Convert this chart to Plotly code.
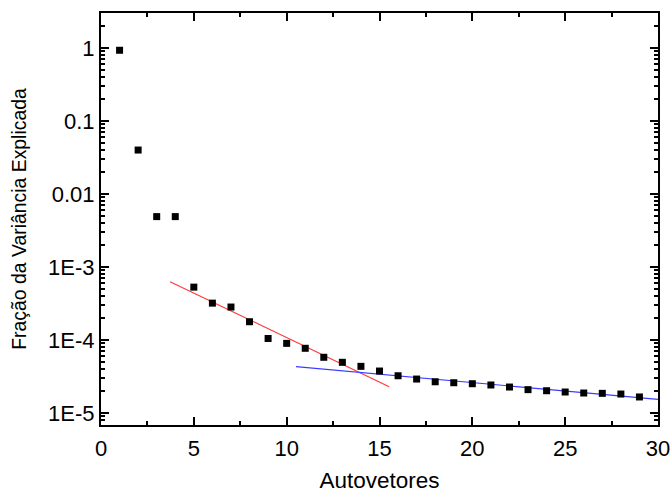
import plotly.graph_objects as go

# Explained-variance fraction per eigenvector
autovetores = list(range(1, 30))
fracao = [0.93, 0.040, 0.0049, 0.0049, 5.3e-4, 3.2e-4, 2.83e-4, 1.78e-4, 1.05e-4,
          9.0e-5, 7.7e-5, 5.8e-5, 4.95e-5, 4.36e-5, 3.76e-5, 3.24e-5, 2.92e-5,
          2.68e-5, 2.60e-5, 2.52e-5, 2.42e-5, 2.27e-5, 2.09e-5, 2.02e-5, 1.94e-5,
          1.88e-5, 1.86e-5, 1.82e-5, 1.66e-5]

# Two straight-line fits (in log scale)
fit_rapido_x = [3.72, 15.52]
fit_rapido_y = [6.29e-4, 2.29e-5]
fit_lento_x = [10.5, 30.0]
fit_lento_y = [4.31e-5, 1.54e-5]

ytick_vals = [1, 0.1, 0.01, 1e-3, 1e-4, 1e-5]
ytick_text = ["1", "0.1", "0.01", "1E-3", "1E-4", "1E-5"]

fig = go.Figure()
fig.add_trace(go.Scatter(x=fit_rapido_x, y=fit_rapido_y, mode="lines",
                         line=dict(color="#ff3b3b", width=1.2), showlegend=False))
fig.add_trace(go.Scatter(x=fit_lento_x, y=fit_lento_y, mode="lines",
                         line=dict(color="#3b3bff", width=1.2), showlegend=False))
fig.add_trace(go.Scatter(x=autovetores, y=fracao, mode="markers",
                         marker=dict(symbol="square", size=7, color="black",
                                     line=dict(width=0)),
                         showlegend=False))

font = "Arial, 'Liberation Sans', sans-serif"
fig.update_layout(
    width=672, height=493,
    margin=dict(l=101, r=14, t=13, b=68),
    plot_bgcolor="white", paper_bgcolor="white",
    font=dict(family=font, color="black", size=20),
)
fig.update_xaxes(
    range=[0, 30], tickvals=[0, 5, 10, 15, 20, 25, 30],
    automargin=False,
    showgrid=False, zeroline=False,
    showline=True, linecolor="black", linewidth=2, mirror="allticks",
    ticks="inside", ticklen=8, tickwidth=2, tickcolor="black",
    minor=dict(ticks="inside", ticklen=4, tickwidth=2, tickcolor="black", dtick=2.5, showgrid=False),
    tickfont=dict(size=22), ticklabelstandoff=3,
    title=dict(text="Autovetores", font=dict(size=22.5), standoff=14),
)
fig.update_yaxes(
    type="log", range=[-5.164, 0.479],
    automargin=False,
    tickvals=ytick_vals, ticktext=ytick_text,
    showgrid=False, zeroline=False,
    showline=True, linecolor="black", linewidth=2, mirror="allticks",
    ticks="inside", ticklen=8, tickwidth=2, tickcolor="black",
    minor=dict(ticks="inside", ticklen=4, tickwidth=2, tickcolor="black", dtick="D1", showgrid=False),
    tickfont=dict(size=22),
    title=dict(text="Fração da Variância Explicada", font=dict(size=19.4), standoff=16),
)

fig.write_html("out.html")
